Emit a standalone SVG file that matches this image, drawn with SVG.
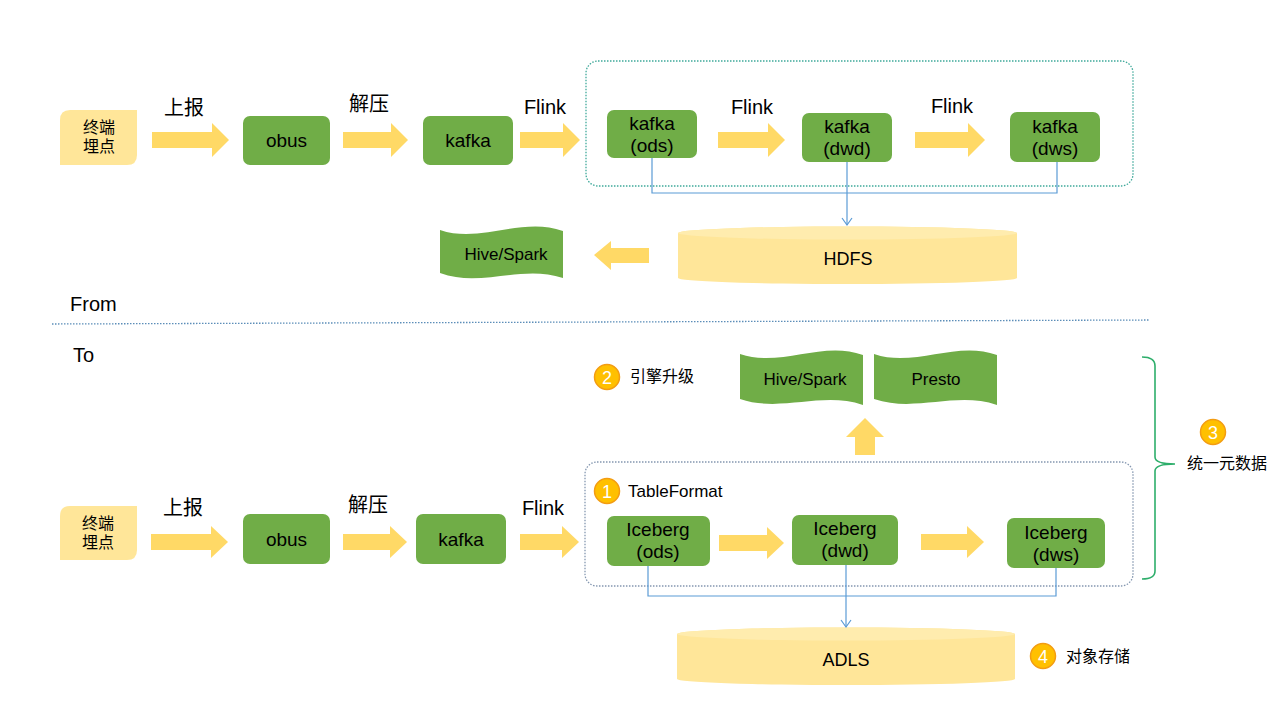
<svg xmlns="http://www.w3.org/2000/svg" width="1280" height="720" viewBox="0 0 1280 720">
<defs>
<style>
text{font-family:"Liberation Sans","Noto Sans CJK SC",sans-serif;fill:#000}
.node{fill:#70AD47}
.src{fill:#FFE699}
.arr{fill:#FFD966}
.nt{font-size:19px;text-anchor:middle}
.lbl{font-size:20px;text-anchor:middle}
.cjk{font-size:16px}
.bt{font-size:17px;text-anchor:middle}
.conn{fill:none;stroke:#5B9BD5;stroke-width:1.2}
.num{fill:#FFC000;stroke:#F39C12;stroke-width:1.5}
.numt{font-size:18px;fill:#fff;text-anchor:middle}
.cyl{fill:#FFE699}
.cyltop{fill:#FFECAE}
</style>
<marker id="ah" markerWidth="12" markerHeight="12" refX="6" refY="10" orient="0" markerUnits="userSpaceOnUse">
<path d="M1,3 L6,10 L11,3" fill="none" stroke="#5B9BD5" stroke-width="1.2"/>
</marker>
</defs>
<rect width="1280" height="720" fill="#fff"/>

<!-- ===== FROM (top) ===== -->
<g id="top-container">
<rect x="586" y="61" width="547" height="125" rx="12" fill="none" stroke="#3FA99A" stroke-width="1.3" stroke-dasharray="1.5 1.5"/>
</g>
<g id="top-src">
<path class="src" d="M70,110 H137 V155 Q137,165 127,165 H60 V120 Q60,110 70,110 Z"/>
<text class="cjk" x="99" y="133" text-anchor="middle">终端</text>
<text class="cjk" x="99" y="152" text-anchor="middle">埋点</text>
</g>
<g id="top-obus">
<rect class="node" x="243" y="116" width="87" height="49" rx="7"/>
<text class="nt" x="286.5" y="147">obus</text>
</g>
<g id="top-kafka">
<rect class="node" x="423" y="116" width="90" height="49" rx="7"/>
<text class="nt" x="468" y="147">kafka</text>
</g>
<g id="top-kafka-ods">
<rect class="node" x="607" y="110" width="90" height="48" rx="7"/>
<text class="nt" x="652" y="130">kafka</text>
<text class="nt" x="652" y="152">(ods)</text>
</g>
<g id="top-kafka-dwd">
<rect class="node" x="802" y="113" width="90" height="49" rx="7"/>
<text class="nt" x="847" y="133">kafka</text>
<text class="nt" x="847" y="155">(dwd)</text>
</g>
<g id="top-kafka-dws">
<rect class="node" x="1010" y="112" width="90" height="50" rx="7"/>
<text class="nt" x="1055" y="133">kafka</text>
<text class="nt" x="1055" y="155">(dws)</text>
</g>
<g id="top-hdfs">
<path class="cyl" d="M678,233 A169.5,6.5 0 0 1 1017,233 V278 A169.5,6 0 0 1 678,278 Z"/>
<ellipse class="cyltop" cx="847.5" cy="233" rx="169.5" ry="6.5"/>
<text x="848" y="265" font-size="18" text-anchor="middle">HDFS</text>
</g>
<g id="top-hive">
<path class="node" d="M440,230 C481,244 522,216 563,231 L563,278 C522,264 481,288 440,273 Z"/>
<text class="bt" x="506" y="260">Hive/Spark</text>
</g>

<!-- top flow arrows and labels -->
<g id="top-arrows">
<polygon class="arr" points="152,132 212,132 212,123 229,140 212,157 212,148 152,148"/>
<polygon class="arr" points="343,132 391,132 391,123 408,140 391,157 391,148 343,148"/>
<polygon class="arr" points="520,132 563,132 563,123 580,140 563,157 563,148 520,148"/>
<polygon class="arr" points="718,132 768,132 768,123 785,140 768,157 768,148 718,148"/>
<polygon class="arr" points="915,132 968,132 968,123 985,140 968,157 968,148 915,148"/>
<polygon class="arr" points="594,255 611,241 611,248 649,248 649,263 611,263 611,270"/>
<text class="lbl" x="184" y="115">上报</text>
<text class="lbl" x="369" y="111">解压</text>
<text class="lbl" x="545" y="114">Flink</text>
<text class="lbl" x="752" y="114">Flink</text>
<text class="lbl" x="952" y="113">Flink</text>
</g>

<g id="top-connectors">
<path class="conn" d="M652,158 V193 H1057 V162"/>
<path class="conn" d="M847,162 V225" marker-end="url(#ah)"/>
</g>

<!-- divider -->
<g id="divider">
<text x="70" y="311" font-size="20">From</text>
<line x1="52" y1="324" x2="1150" y2="320" stroke="#5B8DB8" stroke-width="1.3" stroke-dasharray="1.5 1.5"/>
<text x="73" y="362" font-size="20">To</text>
</g>

<!-- ===== TO (bottom) ===== -->
<g id="bot-container">
<rect x="585" y="462" width="548" height="124" rx="12" fill="none" stroke="#8497B0" stroke-width="1.3" stroke-dasharray="1.5 1.5"/>
</g>
<g id="bot-src">
<path class="src" d="M70,506 H137 V550 Q137,560 127,560 H60 V516 Q60,506 70,506 Z"/>
<text class="cjk" x="98" y="529" text-anchor="middle">终端</text>
<text class="cjk" x="98" y="548" text-anchor="middle">埋点</text>
</g>
<g id="bot-obus">
<rect class="node" x="243" y="514" width="87" height="50" rx="7"/>
<text class="nt" x="286.5" y="546">obus</text>
</g>
<g id="bot-kafka">
<rect class="node" x="416" y="514" width="90" height="50" rx="7"/>
<text class="nt" x="461" y="546">kafka</text>
</g>
<g id="bot-ice-ods">
<rect class="node" x="607" y="516" width="103" height="50" rx="7"/>
<text class="nt" x="658" y="536">Iceberg</text>
<text class="nt" x="658" y="558">(ods)</text>
</g>
<g id="bot-ice-dwd">
<rect class="node" x="792" y="515" width="106" height="50" rx="7"/>
<text class="nt" x="845" y="535">Iceberg</text>
<text class="nt" x="845" y="557">(dwd)</text>
</g>
<g id="bot-ice-dws">
<rect class="node" x="1007" y="518" width="98" height="50" rx="7"/>
<text class="nt" x="1056" y="539">Iceberg</text>
<text class="nt" x="1056" y="561">(dws)</text>
</g>
<g id="bot-adls">
<path class="cyl" d="M677,634 A169,6.5 0 0 1 1015,634 V679 A169,6 0 0 1 677,679 Z"/>
<ellipse class="cyltop" cx="846" cy="634" rx="169" ry="6.5"/>
<text x="846" y="666" font-size="18" text-anchor="middle">ADLS</text>
</g>
<g id="bot-hive">
<path class="node" d="M740,354 C781,368 822,340 863,355 L863,405 C822,391 781,413 740,399 Z"/>
<text class="bt" x="805" y="385">Hive/Spark</text>
</g>
<g id="bot-presto">
<path class="node" d="M874,354 C915,368 956,340 997,355 L997,405 C956,391 915,413 874,399 Z"/>
<text class="bt" x="936" y="385">Presto</text>
</g>

<g id="bot-arrows">
<polygon class="arr" points="151,534 211,534 211,526 228,542 211,558 211,550 151,550"/>
<polygon class="arr" points="343,534 390,534 390,526 407,542 390,558 390,550 343,550"/>
<polygon class="arr" points="520,534 562,534 562,526 579,542 562,558 562,550 520,550"/>
<polygon class="arr" points="719,535 767,535 767,527 784,543 767,559 767,551 719,551"/>
<polygon class="arr" points="921,534 967,534 967,526 984,542 967,558 967,550 921,550"/>
<polygon class="arr" points="865,418 884,437 875,437 875,455 855,455 855,437 846,437"/>
<text class="lbl" x="183" y="515">上报</text>
<text class="lbl" x="368" y="512">解压</text>
<text class="lbl" x="543" y="515">Flink</text>
</g>

<g id="bot-connectors">
<path class="conn" d="M648,566 V596 H1056 V568"/>
<path class="conn" d="M846,565 V627" marker-end="url(#ah)"/>
</g>

<g id="bracket">
<path d="M1142,357 Q1155,357 1155,366 V457 Q1155,464 1175,464 Q1155,464 1155,471 V571 Q1155,579 1142,579" fill="none" stroke="#2EAE6B" stroke-width="1.6"/>
</g>

<g id="note-1">
<circle class="num" cx="607" cy="491" r="12.5"/>
<text class="numt" x="607" y="497.5">1</text>
<text x="628" y="497" font-size="17">TableFormat</text>
</g>
<g id="note-2">
<circle class="num" cx="607" cy="377" r="12.5"/>
<text class="numt" x="607" y="383.5">2</text>
<text class="cjk" x="630" y="382">引擎升级</text>
</g>
<g id="note-3">
<circle class="num" cx="1213" cy="432" r="12.5"/>
<text class="numt" x="1213" y="438.5">3</text>
<text class="cjk" x="1187" y="469">统一元数据</text>
</g>
<g id="note-4">
<circle class="num" cx="1043" cy="656" r="12.5"/>
<text class="numt" x="1043" y="662.5">4</text>
<text class="cjk" x="1066" y="662">对象存储</text>
</g>
</svg>
